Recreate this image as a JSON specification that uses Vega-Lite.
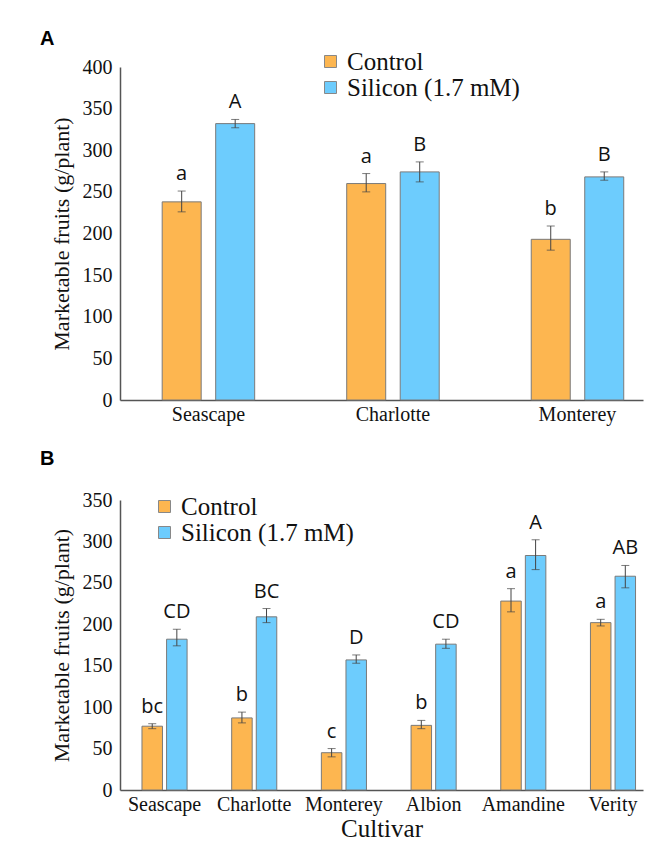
{
  "$schema": "https://vega.github.io/schema/vega-lite/v6.json",
  "padding": {"left": 40, "top": 29, "right": 5, "bottom": 0},
  "spacing": 25,
  "background": "white",
  "config": {
    "view": {"stroke": null},
    "font": "Liberation Serif",
    "axis": {
      "domainColor": "#555555",
      "domainWidth": 1.5,
      "ticks": false,
      "tickSize": 0,
      "grid": false,
      "labelFont": "Liberation Serif",
      "labelFontSize": 20,
      "labelColor": "#111111",
      "titleFont": "Liberation Serif",
      "titleFontSize": 22,
      "titleFontWeight": "normal",
      "titleColor": "#111111"
    },
    "axisY": {"labelPadding": 8, "titlePadding": 9, "labelFont": "Liberation Serif", "titleFont": "Liberation Serif"},
    "axisX": {"labelPadding": 4, "labelAngle": 0, "titlePadding": 2, "labelFont": "Liberation Serif", "titleFont": "Liberation Serif"},
    "legend": {
      "labelFont": "Liberation Serif",
      "labelFontSize": 25,
      "labelColor": "#111111",
      "labelLimit": 400,
      "symbolType": "square",
      "symbolSize": 144,
      "symbolStrokeColor": "#888888",
      "symbolStrokeWidth": 1,
      "labelOffset": 4,
      "rowPadding": 0,
      "padding": 0
    }
  },
  "resolve": {"scale": {"color": "independent", "xOffset": "independent", "x": "independent"}, "legend": {"color": "independent"}},
  "datasets": {
    "A": [
      {"cultivar": "Seascape", "treatment": "Control", "value": 238, "lo": 226, "hi": 251, "letter": "a"},
      {"cultivar": "Seascape", "treatment": "Silicon (1.7 mM)", "value": 332, "lo": 327, "hi": 337, "letter": "A"},
      {"cultivar": "Charlotte", "treatment": "Control", "value": 260, "lo": 250, "hi": 272, "letter": "a"},
      {"cultivar": "Charlotte", "treatment": "Silicon (1.7 mM)", "value": 274, "lo": 262, "hi": 286, "letter": "B"},
      {"cultivar": "Monterey", "treatment": "Control", "value": 193, "lo": 180, "hi": 209, "letter": "b"},
      {"cultivar": "Monterey", "treatment": "Silicon (1.7 mM)", "value": 268, "lo": 264, "hi": 274, "letter": "B"}
    ],
    "B": [
      {"cultivar": "Seascape", "treatment": "Control", "value": 77, "lo": 74, "hi": 80, "letter": "bc"},
      {"cultivar": "Seascape", "treatment": "Silicon (1.7 mM)", "value": 182, "lo": 174, "hi": 194, "letter": "CD"},
      {"cultivar": "Charlotte", "treatment": "Control", "value": 87, "lo": 81, "hi": 94, "letter": "b"},
      {"cultivar": "Charlotte", "treatment": "Silicon (1.7 mM)", "value": 209, "lo": 202, "hi": 219, "letter": "BC"},
      {"cultivar": "Monterey", "treatment": "Control", "value": 45, "lo": 40, "hi": 50, "letter": "c"},
      {"cultivar": "Monterey", "treatment": "Silicon (1.7 mM)", "value": 157, "lo": 153, "hi": 163, "letter": "D"},
      {"cultivar": "Albion", "treatment": "Control", "value": 78, "lo": 74, "hi": 84, "letter": "b"},
      {"cultivar": "Albion", "treatment": "Silicon (1.7 mM)", "value": 176, "lo": 171, "hi": 182, "letter": "CD"},
      {"cultivar": "Amandine", "treatment": "Control", "value": 228, "lo": 215, "hi": 243, "letter": "a"},
      {"cultivar": "Amandine", "treatment": "Silicon (1.7 mM)", "value": 283, "lo": 266, "hi": 302, "letter": "A"},
      {"cultivar": "Verity", "treatment": "Control", "value": 202, "lo": 198, "hi": 206, "letter": "a"},
      {"cultivar": "Verity", "treatment": "Silicon (1.7 mM)", "value": 258, "lo": 244, "hi": 271, "letter": "AB"}
    ]
  },
  "vconcat": [
    {
      "width": 523,
      "height": 333,
      "title": {"text": "A", "anchor": "start", "frame": "group", "dx": -80, "offset": 0, "font": "Liberation Sans", "fontWeight": "bold", "fontSize": 20, "color": "#000000"},
      "data": {"name": "A"},
      "encoding": {
        "x": {"field": "cultivar", "type": "nominal", "sort": null, "title": null,
              "axis": {"labelFont": "Liberation Serif", "labelFontSize": 20},
              "scale": {"paddingInner": 0.4038, "paddingOuter": 0.119, "align": 0.761}},
        "xOffset": {"field": "treatment", "type": "nominal", "sort": null,
              "scale": {"domain": ["Control", "Silicon (1.7 mM)"], "paddingInner": 0.271, "paddingOuter": 0.1636}}
      },
      "layer": [
        {
          "mark": {"type": "bar", "stroke": "#7a7a7a", "strokeWidth": 1},
          "encoding": {
            "y": {"field": "value", "type": "quantitative", "title": "Marketable fruits (g/plant)",
                  "scale": {"domain": [0, 400], "nice": false},
                  "axis": {"values": [0, 50, 100, 150, 200, 250, 300, 350, 400], "labelFont": "Liberation Serif", "titleFont": "Liberation Serif", "labelFontSize": 20, "titleFontSize": 22}},
            "color": {"field": "treatment", "type": "nominal",
                      "scale": {"domain": ["Control", "Silicon (1.7 mM)"], "range": ["#FDB650", "#6DCCFD"]},
                      "legend": {"title": null, "orient": "none", "legendX": 198, "legendY": -18, "labelLimit": 400}}
          }
        },
        {
          "mark": {"type": "rule", "color": "#444444", "strokeWidth": 1},
          "encoding": {
            "y": {"field": "lo", "type": "quantitative", "title": "Marketable fruits (g/plant)"},
            "y2": {"field": "hi"}
          }
        },
        {
          "mark": {"type": "tick", "color": "#444444", "size": 8, "thickness": 1},
          "encoding": {"y": {"field": "lo", "type": "quantitative", "title": "Marketable fruits (g/plant)"}}
        },
        {
          "mark": {"type": "tick", "color": "#444444", "size": 8, "thickness": 1},
          "encoding": {"y": {"field": "hi", "type": "quantitative", "title": "Marketable fruits (g/plant)"}}
        },
        {
          "mark": {"type": "text", "font": "Open Sans", "fontSize": 20, "color": "#111111", "baseline": "alphabetic", "dy": -11},
          "encoding": {
            "y": {"field": "hi", "type": "quantitative", "title": "Marketable fruits (g/plant)"},
            "text": {"field": "letter"}
          }
        }
      ]
    },
    {
      "width": 523,
      "height": 290,
      "title": {"text": "B", "anchor": "start", "frame": "group", "dx": -80, "offset": 21, "font": "Liberation Sans", "fontWeight": "bold", "fontSize": 20, "color": "#000000"},
      "data": {"name": "B"},
      "encoding": {
        "x": {"field": "cultivar", "type": "nominal", "sort": null, "title": "Cultivar",
              "axis": {"titleFontSize": 25, "labelFont": "Liberation Serif", "titleFont": "Liberation Serif", "labelFontSize": 20},
              "scale": {"paddingInner": 0.331, "paddingOuter": 0.081, "align": 1}},
        "xOffset": {"field": "treatment", "type": "nominal", "sort": null,
              "scale": {"domain": ["Control", "Silicon (1.7 mM)"], "paddingInner": 0.1667, "paddingOuter": 0.303}}
      },
      "layer": [
        {
          "mark": {"type": "bar", "stroke": "#7a7a7a", "strokeWidth": 1},
          "encoding": {
            "y": {"field": "value", "type": "quantitative", "title": "Marketable fruits (g/plant)",
                  "scale": {"domain": [0, 350], "nice": false},
                  "axis": {"values": [0, 50, 100, 150, 200, 250, 300, 350], "labelFont": "Liberation Serif", "titleFont": "Liberation Serif", "labelFontSize": 20, "titleFontSize": 22}},
            "color": {"field": "treatment", "type": "nominal",
                      "scale": {"domain": ["Control", "Silicon (1.7 mM)"], "range": ["#FDB650", "#6DCCFD"]},
                      "legend": {"title": null, "orient": "none", "legendX": 32, "legendY": -6, "labelLimit": 400}}
          }
        },
        {
          "mark": {"type": "rule", "color": "#444444", "strokeWidth": 1},
          "encoding": {
            "y": {"field": "lo", "type": "quantitative", "title": "Marketable fruits (g/plant)"},
            "y2": {"field": "hi"}
          }
        },
        {
          "mark": {"type": "tick", "color": "#444444", "size": 8, "thickness": 1},
          "encoding": {"y": {"field": "lo", "type": "quantitative", "title": "Marketable fruits (g/plant)"}}
        },
        {
          "mark": {"type": "tick", "color": "#444444", "size": 8, "thickness": 1},
          "encoding": {"y": {"field": "hi", "type": "quantitative", "title": "Marketable fruits (g/plant)"}}
        },
        {
          "mark": {"type": "text", "font": "Open Sans", "fontSize": 20, "color": "#111111", "baseline": "alphabetic", "dy": -11},
          "encoding": {
            "y": {"field": "hi", "type": "quantitative", "title": "Marketable fruits (g/plant)"},
            "text": {"field": "letter"}
          }
        }
      ]
    }
  ]
}
